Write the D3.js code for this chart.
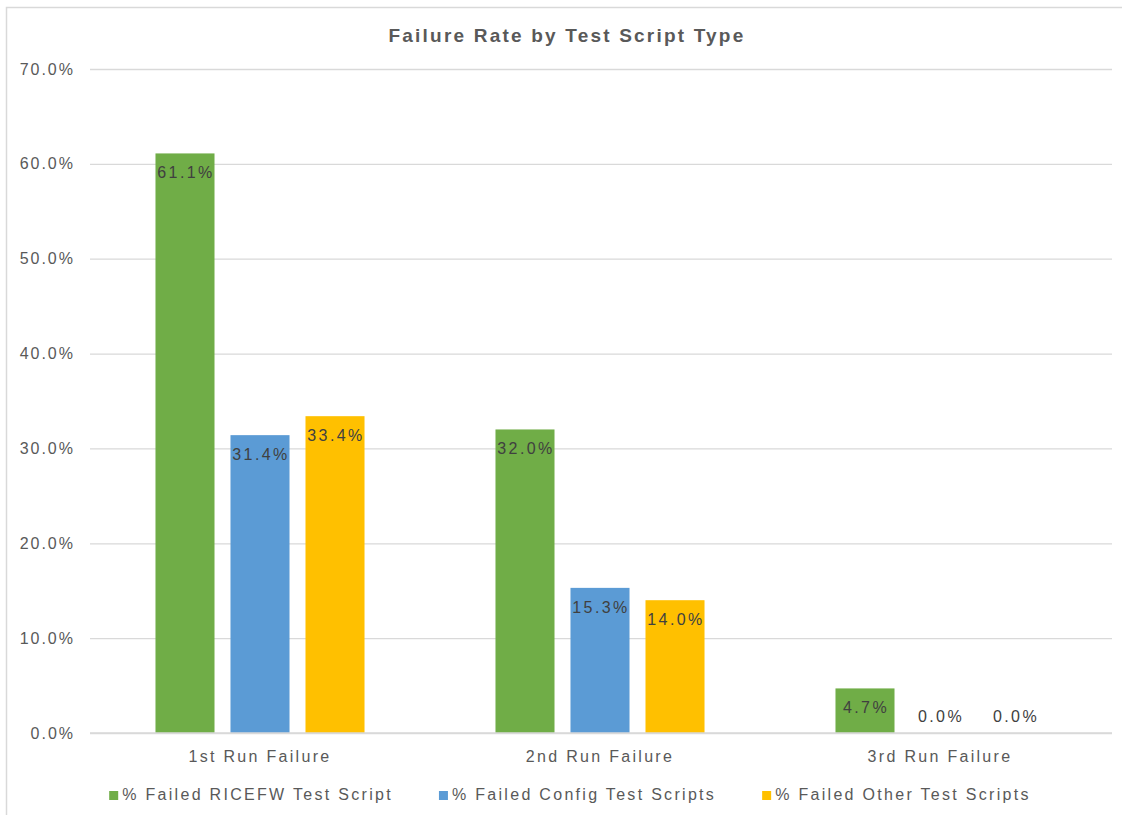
<!DOCTYPE html>
<html><head><meta charset="utf-8">
<script src="https://cdn.jsdelivr.net/npm/d3@7"></script>
<style>
body{margin:0;background:#fff;}
text{font-family:"Liberation Sans",Arial,sans-serif;}
</style></head>
<body><svg id="c" width="1122" height="815"></svg>
<script>
const categories = ["1st Run Failure","2nd Run Failure","3rd Run Failure"];
const seriesNames = ["% Failed RICEFW Test Script","% Failed Config Test Scripts","% Failed Other Test Scripts"];
const ricefw = [0.611,0.320,0.047];
const config = [0.314,0.153,0.000];
const other  = [0.334,0.140,0.000];
const yTicks = [0,0.1,0.2,0.3,0.4,0.5,0.6,0.7];
const colors = ["#70AD47","#5B9BD5","#FFC000"];
const seriesValues = [ricefw, config, other];

(function(){
const svg = d3.select("#c");
const W=1122,H=815;
svg.append("rect").attr("x",6.5).attr("y",7.5).attr("width",W+10).attr("height",H+10).attr("fill","#fff").attr("stroke","#d9d9d9").attr("stroke-width",1.5);

const pL=90,pR=1112,pT=69,pB=733;
const x0=d3.scaleBand().domain(categories).range([pL,pL+1020]).paddingInner(0).paddingOuter(0);
const x1=d3.scaleBand().domain(d3.range(3)).range([0,x0.bandwidth()]).paddingInner(0.213).paddingOuter(0.873);
const y=d3.scaleLinear().domain([0,0.7]).range([pB,pT]);
const fmt=d3.format(".1%");

const yAxis=d3.axisLeft(y).tickValues(yTicks).tickFormat(fmt).tickSize(-(pR-pL)).tickPadding(15);
const ga=svg.append("g").attr("transform",`translate(${pL},0)`).call(yAxis);
ga.select(".domain").remove();
ga.selectAll(".tick line").attr("stroke","#d9d9d9").attr("stroke-width",1.3);
ga.selectAll(".tick text").attr("fill","#595959").style("font-size","16px").style("letter-spacing","2px");

const data=[];
categories.forEach((c,i)=>seriesValues.forEach((s,j)=>data.push({c,j,v:s[i]})));
svg.append("g").selectAll("rect").data(data).join("rect")
 .attr("x",d=>x0(d.c)+x1(d.j)).attr("width",x1.bandwidth())
 .attr("y",d=>y(d.v)).attr("height",d=>pB-y(d.v))
 .attr("fill",d=>colors[d.j]);

const xAxis=d3.axisBottom(x0).tickSize(0).tickPadding(18);
const gx=svg.append("g").attr("transform",`translate(0,${pB})`).call(xAxis);
gx.select(".domain").attr("stroke","#d9d9d9").attr("stroke-width",1.5).attr("d",`M${pL},0H${pR}`);
gx.selectAll(".tick text").attr("fill","#595959").style("font-size","16px").style("letter-spacing","2.3px");

svg.append("g").selectAll("text").data(data).join("text")
 .attr("x",d=>x0(d.c)+x1(d.j)+x1.bandwidth()/2+1)
 .attr("y",d=>Math.min(y(d.v)+25,pB-11))
 .attr("text-anchor","middle").attr("fill","#404040")
 .style("font-size","16px").style("letter-spacing","2.4px")
 .text(d=>fmt(d.v));

svg.append("text").attr("x",567).attr("y",42).attr("text-anchor","middle")
 .attr("fill","#595959").style("font-size","19px").style("font-weight","bold").style("letter-spacing","2.2px")
 .text("Failure Rate by Test Script Type");

const lg=svg.append("g");
const items=lg.selectAll("g").data(seriesNames).join("g");
items.append("rect").attr("width",9).attr("height",9).attr("y",-9).attr("fill",(d,i)=>colors[i]);
items.append("text").attr("x",13).attr("y",0).attr("fill","#595959")
 .style("font-size","16px").style("letter-spacing","2.3px").text(d=>d);
let widths=[];
items.each(function(){widths.push(13+this.querySelector("text").getComputedTextLength());});
const gap=46; const total=d3.sum(widths)+gap*(widths.length-1);
let cx=570-total/2;
items.attr("transform",(d,i)=>{const t=`translate(${cx},800)`;cx+=widths[i]+gap;return t;});
})();
</script></body></html>
